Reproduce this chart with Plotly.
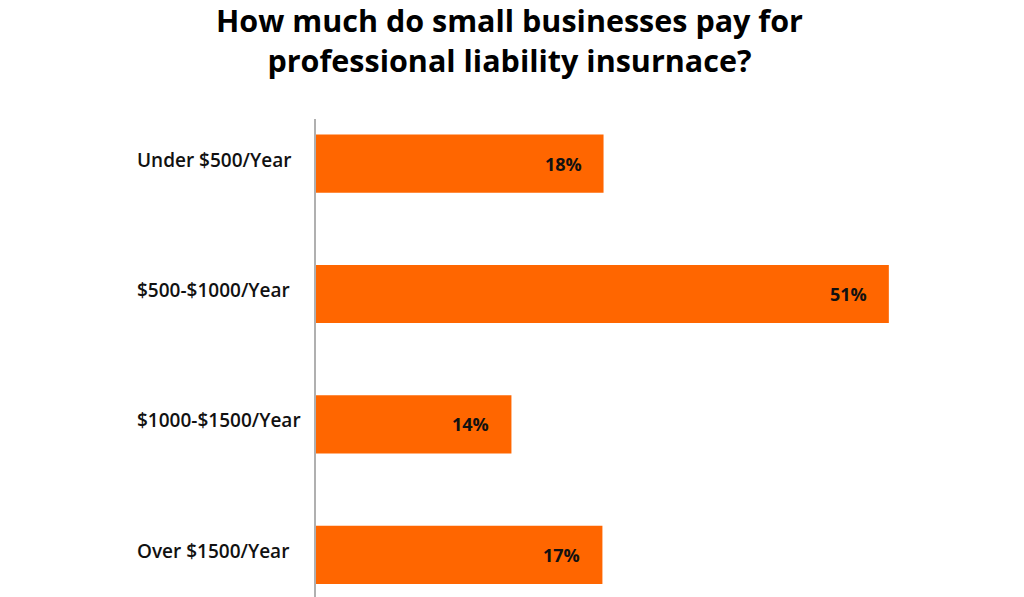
import plotly.graph_objects as go

categories = ["Under $500/Year", "$500-$1000/Year", "$1000-$1500/Year", "Over $1500/Year"]
percent_labels = [18, 51, 14, 17]
# bar lengths as drawn in the picture (same scale as the 51% bar)
bar_lengths = [25.6, 51, 17.4, 25.5]

title_lines = ["How much do small businesses pay for", "professional liability insurnace?"]

BAR = "#FF6600"
FONT = "Open Sans"

W, H = 1024, 597
L, T, B = 316, 119, 0
x_max = 56
plot_w = round(573 * x_max / 51)
R = W - L - plot_w
plot_h = H - T - B

fig = go.Figure()
fig.add_trace(go.Bar(
    y=list(range(len(categories))),
    x=bar_lengths,
    orientation="h",
    marker=dict(color=BAR, line=dict(width=0)),
    width=0.446,
    hoverinfo="skip",
))

for i, (cat, pct, ln) in enumerate(zip(categories, percent_labels, bar_lengths)):
    fig.add_annotation(
        x=ln, y=i, xref="x", yref="y", text=f"{pct}%", showarrow=False,
        xanchor="right", yanchor="middle", xshift=-20, yshift=0,
        font=dict(family=FONT, size=18, color="#111111", weight=700),
    )
    fig.add_annotation(
        x=(135 - L) / plot_w, y=i, xref="paper", yref="y", text=cat, showarrow=False,
        xanchor="left", yanchor="middle", yshift=4,
        font=dict(family=FONT, size=19, color="#111111", weight=600),
    )

fig.add_annotation(
    x=(509 - L) / plot_w, y=1 + (T - 40.5) / plot_h,
    xref="paper", yref="paper", text="<br>".join(title_lines),
    showarrow=False, xanchor="center", yanchor="middle", align="center",
    font=dict(family=FONT, size=30.5, color="#000000", weight=700),
)

fig.update_layout(
    width=W, height=H,
    margin=dict(l=L, r=R, t=T, b=B, pad=0),
    plot_bgcolor="white", paper_bgcolor="white",
    showlegend=False,
    xaxis=dict(range=[0, x_max], visible=False, fixedrange=True),
    yaxis=dict(range=[3.323, -0.342], showticklabels=False, showgrid=False,
               zeroline=False, showline=True, linecolor="#b0b0b0", linewidth=2,
               ticks=""),
)

fig.write_html("out.html", config={"displayModeBar": False},
               post_script="document.body.style.margin='0';")
